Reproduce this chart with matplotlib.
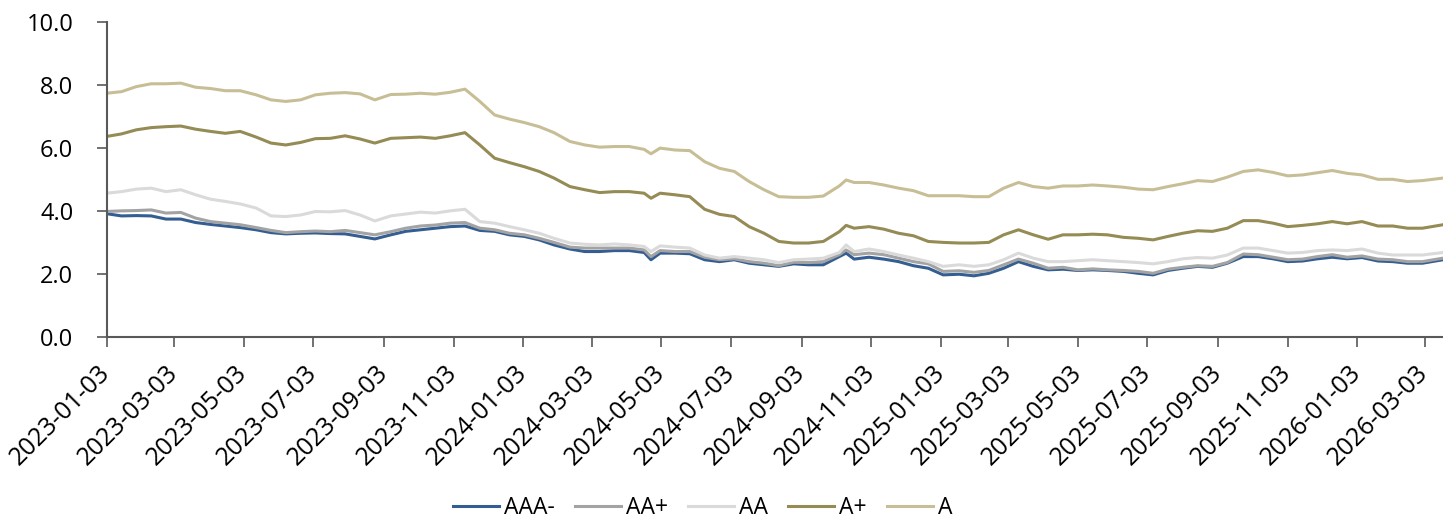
import matplotlib
matplotlib.use('Agg')
import pandas as pd
import matplotlib.pyplot as plt
import matplotlib.dates as mdates
from matplotlib.ticker import FormatStrFormatter

dates = [
    '2023-01-03', '2023-01-16', '2023-01-29', '2023-02-11', '2023-02-24', '2023-03-09', '2023-03-22',
    '2023-04-04', '2023-04-17', '2023-04-30', '2023-05-14', '2023-05-27', '2023-06-09', '2023-06-22',
    '2023-07-05', '2023-07-18', '2023-07-31',
    '2023-08-13', '2023-08-26', '2023-09-09', '2023-09-22', '2023-10-05', '2023-10-18', '2023-10-31',
    '2023-11-13', '2023-11-26', '2023-12-09', '2023-12-22', '2024-01-04', '2024-01-17', '2024-01-30',
    '2024-02-13', '2024-02-26',
    '2024-03-10', '2024-03-23', '2024-04-05', '2024-04-18', '2024-04-24', '2024-05-02', '2024-05-15',
    '2024-05-28', '2024-06-10', '2024-06-23', '2024-07-06', '2024-07-19', '2024-08-01', '2024-08-14',
    '2024-08-27', '2024-09-09', '2024-09-22',
    '2024-10-06', '2024-10-12', '2024-10-19', '2024-11-01', '2024-11-14', '2024-11-27', '2024-12-10',
    '2024-12-23', '2025-01-05', '2025-01-19', '2025-02-01', '2025-02-14', '2025-02-27', '2025-03-12',
    '2025-03-25', '2025-04-07', '2025-04-20',
    '2025-05-03', '2025-05-16', '2025-05-29', '2025-06-12', '2025-06-25', '2025-07-08', '2025-07-21',
    '2025-08-03', '2025-08-16', '2025-08-29', '2025-09-11', '2025-09-25', '2025-10-08', '2025-10-21',
    '2025-11-03', '2025-11-16',
    '2025-11-29', '2025-12-12', '2025-12-25', '2026-01-07', '2026-01-21', '2026-02-03', '2026-02-16',
    '2026-03-01', '2026-03-19',
]

aaa_minus = [
    3.92, 3.85, 3.86, 3.85, 3.75, 3.75, 3.64, 3.58, 3.53, 3.48, 3.41, 3.32, 3.28, 3.30, 3.31, 3.29, 3.28,
    3.20, 3.12, 3.25, 3.36, 3.41, 3.46, 3.51, 3.53, 3.39, 3.36, 3.25, 3.20, 3.09, 2.93, 2.80, 2.72,
    2.72, 2.75, 2.75, 2.69, 2.46, 2.67, 2.67, 2.65, 2.46, 2.40, 2.46, 2.35, 2.30, 2.25, 2.33, 2.30, 2.30,
    2.56, 2.67, 2.48, 2.54, 2.48, 2.40, 2.27, 2.19, 1.98, 2.00, 1.95, 2.03, 2.19, 2.40, 2.25, 2.14, 2.16,
    2.12, 2.14, 2.12, 2.09, 2.03, 1.98, 2.12, 2.19, 2.25, 2.22, 2.35, 2.56, 2.56, 2.49, 2.40, 2.42,
    2.49, 2.54, 2.49, 2.53, 2.42, 2.40, 2.35, 2.35, 2.46,
]
aa_plus = [
    3.99, 4.01, 4.02, 4.04, 3.94, 3.96, 3.78, 3.67, 3.62, 3.57, 3.48, 3.39, 3.32, 3.35, 3.37, 3.35, 3.39,
    3.32, 3.25, 3.35, 3.46, 3.53, 3.56, 3.62, 3.64, 3.46, 3.41, 3.30, 3.25, 3.14, 3.01, 2.86, 2.83,
    2.83, 2.83, 2.83, 2.77, 2.56, 2.75, 2.72, 2.72, 2.54, 2.46, 2.49, 2.40, 2.35, 2.27, 2.38, 2.37, 2.40,
    2.62, 2.77, 2.62, 2.67, 2.62, 2.51, 2.40, 2.33, 2.09, 2.11, 2.06, 2.12, 2.30, 2.48, 2.35, 2.19, 2.22,
    2.14, 2.17, 2.14, 2.12, 2.09, 2.03, 2.16, 2.22, 2.27, 2.25, 2.37, 2.64, 2.62, 2.54, 2.46, 2.48,
    2.56, 2.62, 2.54, 2.58, 2.48, 2.46, 2.40, 2.40, 2.51,
]
aa = [
    4.57, 4.62, 4.70, 4.73, 4.62, 4.68, 4.52, 4.38, 4.31, 4.23, 4.10, 3.85, 3.83, 3.88, 3.99, 3.98, 4.02,
    3.88, 3.69, 3.85, 3.91, 3.97, 3.94, 4.01, 4.06, 3.67, 3.62, 3.51, 3.41, 3.30, 3.14, 2.99, 2.95,
    2.93, 2.96, 2.93, 2.88, 2.72, 2.90, 2.86, 2.83, 2.61, 2.51, 2.56, 2.51, 2.46, 2.37, 2.46, 2.48, 2.51,
    2.69, 2.93, 2.72, 2.80, 2.72, 2.61, 2.51, 2.40, 2.25, 2.30, 2.25, 2.30, 2.46, 2.67, 2.51, 2.40, 2.40,
    2.43, 2.46, 2.43, 2.40, 2.37, 2.33, 2.40, 2.49, 2.53, 2.51, 2.61, 2.83, 2.83, 2.75, 2.67, 2.69,
    2.75, 2.77, 2.75, 2.80, 2.67, 2.61, 2.61, 2.61, 2.69,
]
a_plus = [
    6.37, 6.45, 6.58, 6.65, 6.68, 6.70, 6.60, 6.53, 6.47, 6.53, 6.35, 6.16, 6.10, 6.18, 6.30, 6.31, 6.39,
    6.29, 6.16, 6.31, 6.33, 6.35, 6.31, 6.39, 6.49, 6.10, 5.68, 5.54, 5.41, 5.26, 5.05, 4.78, 4.68,
    4.59, 4.62, 4.62, 4.57, 4.41, 4.57, 4.52, 4.46, 4.06, 3.90, 3.83, 3.51, 3.30, 3.04, 2.99, 2.99, 3.04,
    3.35, 3.55, 3.46, 3.51, 3.43, 3.30, 3.22, 3.04, 3.01, 2.99, 2.99, 3.01, 3.25, 3.41, 3.25, 3.11, 3.25,
    3.25, 3.27, 3.25, 3.17, 3.14, 3.09, 3.20, 3.30, 3.38, 3.36, 3.46, 3.70, 3.70, 3.62, 3.51, 3.55,
    3.60, 3.67, 3.60, 3.67, 3.53, 3.53, 3.46, 3.46, 3.57,
]
a = [
    7.74, 7.79, 7.95, 8.04, 8.04, 8.06, 7.93, 7.89, 7.82, 7.82, 7.69, 7.53, 7.48, 7.53, 7.69, 7.74, 7.76,
    7.72, 7.53, 7.70, 7.71, 7.74, 7.71, 7.77, 7.87, 7.48, 7.05, 6.92, 6.81, 6.68, 6.49, 6.21, 6.10,
    6.03, 6.05, 6.05, 5.96, 5.82, 6.00, 5.94, 5.92, 5.57, 5.36, 5.26, 4.94, 4.68, 4.46, 4.44, 4.44, 4.48,
    4.80, 4.99, 4.91, 4.91, 4.83, 4.73, 4.65, 4.49, 4.49, 4.49, 4.46, 4.46, 4.73, 4.91, 4.78, 4.73, 4.80,
    4.80, 4.83, 4.80, 4.76, 4.70, 4.68, 4.78, 4.87, 4.97, 4.94, 5.08, 5.26, 5.31, 5.23, 5.12, 5.15,
    5.22, 5.29, 5.20, 5.15, 5.01, 5.01, 4.94, 4.97, 5.05,
]

labels = ['AAA-', 'AA+', 'AA', 'A+', 'A']
colors = ['#345E92', '#A3A3A3', '#DADADA', '#958B55', '#C8BE96']

plt.rcParams['font.family'] = ['Open Sans', 'DejaVu Sans']

x = pd.to_datetime(dates)
series = [aaa_minus, aa_plus, aa, a_plus, a]

fig = plt.figure(figsize=(14.43, 5.22), dpi=100)
ax = fig.add_axes([0.0739, 0.3538, 0.9261, 0.6041])
for values, label, color in zip(series, labels, colors):
    ax.plot(x, values, color=color, linewidth=2.2, label=label)

ax.set_ylim(0, 10)
ax.set_yticks(range(0, 11, 2))
ax.yaxis.set_major_formatter(FormatStrFormatter('%.1f'))
ax.set_xlim(x[0], x[-1])
ticks = pd.date_range('2023-01-01', '2026-03-01', freq='2MS') + pd.Timedelta(days=2)
ax.set_xticks(ticks)
ax.xaxis.set_major_formatter(mdates.DateFormatter('%Y-%m-%d'))

ax.tick_params(axis='both', length=7, width=1.2, color='#595959', direction='out')
ax.tick_params(axis='y', labelsize=17, pad=17)
ax.tick_params(axis='x', labelsize=18, pad=16)
for label in ax.get_xticklabels():
    label.set_rotation(45)
    label.set_ha('right')
    label.set_va('center')
    label.set_rotation_mode('anchor')
for side in ['top', 'right']:
    ax.spines[side].set_visible(False)
for side in ['left', 'bottom']:
    ax.spines[side].set_color('#595959')
    ax.spines[side].set_linewidth(1.5)

fig.legend(loc='center', bbox_to_anchor=(0.487, 0.027), ncol=5, frameon=False, fontsize=16.5,
           handlelength=2.0, handletextpad=0.2, columnspacing=0.9, borderpad=0.1)

fig.savefig('out.png', dpi=100)
plt.close(fig)
